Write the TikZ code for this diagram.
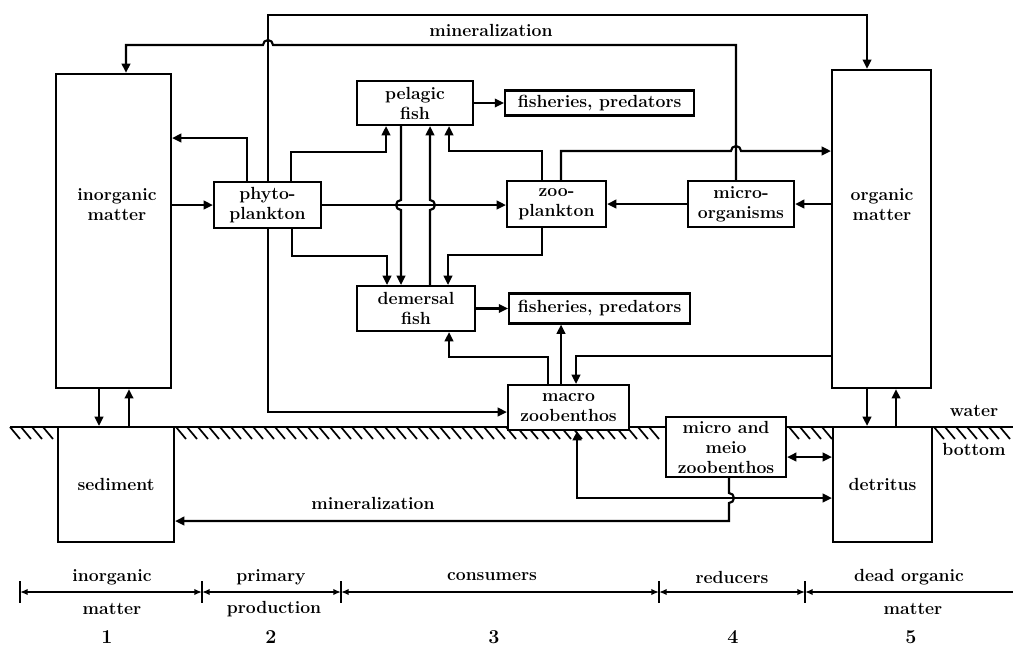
\documentclass[tikz,border=0pt]{standalone}
\usepackage{fontspec}
\usepackage{tikz}
\usetikzlibrary{arrows.meta,positioning}
\newcommand{\diagfont}{\fontsize{12.5}{14.2}\selectfont\bfseries}

\begin{document}
\begin{tikzpicture}[
  x=0.025cm, y=-0.025cm,
  box/.style={draw, line width=1.5pt, fill=white, align=center, font=\diagfont, inner sep=0pt},
  txt/.style={align=center, font=\diagfont, inner sep=0pt},
  arr/.style={-{Triangle[length=2.3mm, width=2.1mm]}, line width=1.5pt},
  dbl/.style={{Triangle[length=2.3mm, width=2.1mm]}-{Triangle[length=2.3mm, width=2.1mm]}, line width=1.5pt},
  hatch/.style={line width=1.2pt},
  scl/.style={{Latex[length=1.9mm, width=1.6mm]}-{Latex[length=1.9mm, width=1.6mm]}, line width=1.2pt}
]
\useasboundingbox (0,0) rectangle (1013,646);

% water / bottom boundary
\draw[line width=1.5pt] (10,427) -- (1013,427);
\foreach \x in {10,21,...,46} \draw[hatch] (\x,427) -- ++(10,12);
\foreach \x in {176,187,...,655} \draw[hatch] (\x,427) -- ++(10,12);
\foreach \x in {789,800,...,822} \draw[hatch] (\x,427) -- ++(10,12);
\foreach \x in {934,945,...,1000} \draw[hatch] (\x,427) -- ++(10,12);

% compartments
\node[box, minimum width=2.875cm, minimum height=7.85cm] (inorg) at (113.5,231) {};
\node[txt] (inorgtxt) at (117,205) {inorganic\\matter};
\node[box, minimum width=2.475cm, minimum height=7.95cm] (om) at (881.5,229) {};
\node[txt] (omtxt) at (882,205) {organic\\matter};
\node[box, minimum width=2.9cm, minimum height=2.875cm] (sed) at (116,484.5) {sediment};
\node[box, minimum width=2.475cm, minimum height=2.875cm] (det) at (882.5,484.5) {detritus};

\node[box, minimum width=2.675cm, minimum height=1.15cm] (phyto) at (267.5,205) {phyto-\\plankton};
\node[box, minimum width=2.9cm, minimum height=1.1cm] (pelagic) at (415,103) {pelagic\\fish};
\node[box, minimum width=4.725cm, minimum height=0.625cm, right=0.75cm of pelagic] (fish1) {fisheries, predators};
\node[box, minimum width=2.475cm, minimum height=1.15cm] (zoo) at (556.5,204) {zoo-\\plankton};
\node[box, minimum width=2.65cm, minimum height=1.15cm] (micro) at (741,204) {micro-\\organisms};
\node[box, minimum width=2.95cm, minimum height=1.125cm] (demersal) at (416,308.5) {demersal\\fish};
\node[box, minimum width=4.525cm, minimum height=0.75cm, right=0.8cm of demersal] (fish2) {fisheries, predators};
\node[box, minimum width=3.025cm, minimum height=1.125cm] (macro) at (568.5,407.5) {macro\\zoobenthos};
\node[box, minimum width=3cm, minimum height=1.5cm] (meio) at (726,447) {micro and\\meio\\zoobenthos};

\node[txt] (wat) at (974,411) {water};
\node[txt] (bot) at (974,449) {bottom};

% mineralization loops
\draw[arr] (micro.north -| 736,0) -- (736,45) -- (273,45)
  arc[start angle=0, end angle=180, radius=1.25mm] -- (126,45) -- (inorg.north -| 126,0);
\node[txt] (minup) at (491,30) {mineralization};
\draw[arr] (phyto.north -| 268,0) -- (268,15) -- (867,15) -- (om.north -| 867,0);
\draw[arr] (phyto.south -| 268,0) -- (268,412) -- (macro.west |- 0,412);

% phytoplankton
\draw[arr] (inorg.east |- phyto.west) -- (phyto.west);
\draw[arr] (phyto.north -| 247,0) -- (247,138) -- (inorg.east |- 0,138);
\draw[arr] (phyto.north -| 291,0) -- (291,152) -- (386,152) -- (pelagic.south -| 386,0);
\draw[arr] (phyto.south -| 292,0) -- (292,256) -- (387,256) -- (demersal.north -| 387,0);
\draw[arr] (phyto.east) -- (zoo.west |- phyto.east);

% fish
\draw[arr] (pelagic.south -| 401,0) -- (401,200)
  arc[start angle=90, end angle=270, radius=1.25mm] -- (demersal.north -| 401,0);
\draw[arr] (demersal.north -| 430,0) -- (430,210)
  arc[start angle=-90, end angle=90, radius=1.25mm] -- (pelagic.south -| 430,0);
\draw[arr] (pelagic.east) -- (pelagic.east -| fish1.west);
\draw[arr] (demersal.east) -- (demersal.east -| fish2.west);

% zooplankton
\draw[arr] (zoo.north -| 542,0) -- (542,151) -- (449,151) -- (pelagic.south -| 449,0);
\draw[arr] (zoo.north -| 561,0) -- (561,151) -- (731,151)
  arc[start angle=180, end angle=0, radius=1.25mm] -- (om.west |- 0,151);
\draw[arr] (zoo.south -| 542,0) -- (542,255) -- (448,255) -- (demersal.north -| 448,0);
\draw[arr] (micro.west) -- (zoo.east |- micro.west);
\draw[arr] (om.west |- micro.east) -- (micro.east);

% benthos
\draw[arr] (macro.north -| 548,0) -- (548,357) -- (449,357) -- (demersal.south -| 449,0);
\draw[arr] (macro.north -| 561,0) -- (fish2.south -| 561,0);
\draw[arr] (om.west |- 0,356) -- (576,356) -- (macro.north -| 576,0);
\draw[dbl] (meio.east |- 0,457) -- (det.west |- 0,457);
\draw[dbl] (macro.south -| 577,0) -- (577,498) -- (det.west |- 0,498);
\draw[arr] (meio.south -| 729,0) -- (729,493)
  arc[start angle=90, end angle=-90, radius=1.25mm] -- (729,521) -- (sed.east |- 0,521);
\node[txt] (mindown) at (373,503) {mineralization};

% exchange with the bottom
\draw[arr] (inorg.south -| 99,0) -- (sed.north -| 99,0);
\draw[arr] (sed.north -| 129,0) -- (inorg.south -| 129,0);
\draw[arr] (om.south -| 867,0) -- (det.north -| 867,0);
\draw[arr] (det.north -| 896,0) -- (om.south -| 896,0);

% scale of trophic levels
\foreach \x [count=\i] in {20,202,341,659,805} {
  \coordinate (t\i) at (\x,592);
  \draw[line width=1.2pt] (\x,581) -- (\x,603);
}
\coordinate (tend) at (1013,592);
\draw[scl] (t1) -- (t2);
\draw[scl] (t2) -- (t3);
\draw[scl] (t3) -- (t4);
\draw[scl] (t4) -- (t5);
\draw[{Latex[length=1.9mm, width=1.6mm]}-, line width=1.2pt] (t5) -- (tend);

\node[txt] (l1a) at (112,577) {inorganic};
\node[txt] (l1b) at (112,609) {matter};
\node[txt] (l2a) at (271,577) {primary};
\node[txt] (l2b) at (274,609) {production};
\node[txt] (l3a) at (492,577) {consumers};
\node[txt] (l4a) at (732,577) {reducers};
\node[txt] (l5a) at (909,577) {dead organic};
\node[txt] (l5b) at (913,609) {matter};
\foreach \x [count=\i] in {107,271,494,733,911}
  \node[txt, font=\fontsize{14}{16}\selectfont\bfseries] (n\i) at (\x,637) {\i};
\end{tikzpicture}
\end{document}
